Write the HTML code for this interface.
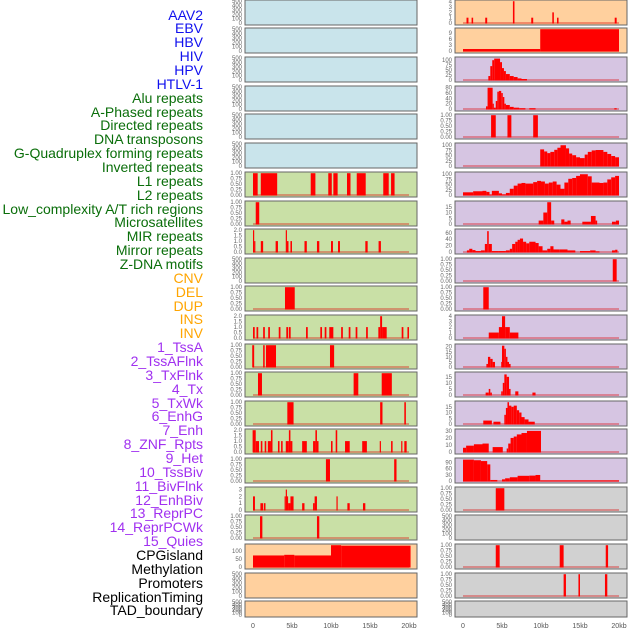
<!DOCTYPE html>
<html><head><meta charset="utf-8">
<style>
html,body{margin:0;padding:0;background:#fff;}
#wrap{position:relative;width:630px;height:630px;overflow:hidden;}
.lab{position:absolute;right:427px;font-family:"Liberation Sans",sans-serif;font-size:14px;line-height:14px;white-space:nowrap;}
svg{position:absolute;left:0;top:0;}
</style></head><body>
<div id="wrap">
<svg id="chart" width="630" height="630"></svg>
</div>
<script>
// ---- category labels ----
const labelNames = ["AAV2","EBV","HBV","HIV","HPV","HTLV-1","Alu repeats","A-Phased repeats","Directed repeats","DNA transposons","G-Quadruplex forming repeats","Inverted repeats","L1 repeats","L2 repeats","Low_complexity A/T rich regions","Microsatellites","MIR repeats","Mirror repeats","Z-DNA motifs","CNV","DEL","DUP","INS","INV","1_TssA","2_TssAFlnk","3_TxFlnk","4_Tx","5_TxWk","6_EnhG","7_Enh","8_ZNF_Rpts","9_Het","10_TssBiv","11_BivFlnk","12_EnhBiv","13_ReprPC","14_ReprPCWk","15_Quies","CPGisland","Methylation","Promoters","ReplicationTiming","TAD_boundary"];
const labelGroups = [6,13,5,15,5];
const groupColors = ["#1010ee","#0a6e0a","#ffa500","#a030f0","#000000"];

// ---- panel data: [startKb, endKb, value] ----
const EMPTY = [];
const R0 = [[0.45,0.7,1],[1.1,1.3,1],[2.85,3.1,1],[6.4,6.6,4.1],[8.75,9,1],[11.45,11.65,2],[12.05,12.25,1],[19.45,19.7,1]];
const R1 = [[0,9.9,1],[9.9,20,11]];
const R2 = [[3.25,3.5,20],[3.5,3.75,70],[3.75,4,100],[4,4.75,108],[4.75,5,90],[5,5.25,60],[5.25,5.5,45],[5.5,6,30],[6,6.5,20],[6.5,7,15],[7,7.5,8],[7.5,8.2,5]];
const R3 = [[2.95,3.15,10],[3.15,3.8,80],[3.8,3.95,20],[3.95,4.2,5],[4.2,4.4,30],[4.4,4.6,65],[4.6,4.9,68],[4.9,5.1,60],[5.1,5.3,45],[5.3,5.5,20],[5.5,6,15],[6,6.5,8],[6.5,7.2,5],[7.2,8,3],[8.5,9.3,3],[19.4,19.7,3]];
const R4 = [[3.6,4.2,1],[5.7,6.2,1],[9,9.6,1]];
const R5 = [[9.9,10.4,80],[10.4,10.8,70],[10.8,11.2,62],[11.2,11.7,68],[11.7,12.1,78],[12.1,12.5,88],[12.5,13.2,100],[13.2,13.6,85],[13.6,14,60],[14,14.5,52],[14.5,15,42],[15,15.6,38],[15.6,16,55],[16,16.5,68],[16.5,17,75],[17,18,77],[18,18.5,68],[18.5,19,58],[19,19.5,48],[19.5,20,42]];
const R6 = [[0,1.3,13],[1.3,2.5,18],[2.5,3,20],[3,3.4,15],[3.4,3.7,2],[3.7,4.6,20],[4.6,5,8],[5,5.5,3],[5.5,6,10],[6,6.5,30],[6.5,7,45],[7,7.5,55],[7.5,8,58],[8,9,55],[9,9.5,62],[9.5,10,68],[10,10.5,65],[10.5,11,55],[11,11.5,60],[11.5,12,65],[12,12.5,50],[12.5,13,30],[13,13.5,60],[13.5,14,78],[14,14.5,82],[14.5,15,92],[15,16,100],[16,16.5,90],[16.5,17.5,60],[17.5,18,58],[18,18.5,60],[18.5,19,75],[19,19.5,85],[19.5,20,92]];
const R7 = [[9.7,10.3,3],[10.3,10.8,10],[10.8,11.3,19],[11.3,11.7,3],[12.6,13,4],[13,13.4,2],[13.4,13.8,3],[15.3,16.4,2],[16.4,17,7],[17,17.2,3],[19.1,19.6,2],[19.6,20,3]];
const R8 = [[0.5,0.8,5],[0.8,1.2,10],[1.2,1.6,6],[1.6,2.3,3],[2.3,2.8,5],[2.8,3.1,25],[3.1,3.3,65],[3.3,3.7,25],[3.7,4.5,3],[4.5,5.5,3],[5.5,6,5],[6,6.3,10],[6.3,6.7,25],[6.7,7,32],[7,7.3,38],[7.3,7.7,42],[7.7,8.1,32],[8.1,8.5,27],[8.5,9.3,32],[9.3,9.7,28],[9.7,10.2,18],[10.2,10.8,5],[10.8,11.2,10],[11.2,11.6,18],[11.6,12.4,8],[12.4,13.4,8],[13.4,14.4,5],[15,16.3,3],[16.3,17,5],[17,17.5,2],[19.1,19.5,5],[19.5,19.8,7]];
const R9 = [[19.2,19.7,1]];
const R10 = [[2.6,3.3,1]];
const R11 = [[3.3,4.6,1],[4.6,5,2],[5,5.4,4],[5.4,6,2],[6,7.1,1]];
const R12 = [[3,3.2,3],[3.2,3.5,10],[3.5,3.8,8],[3.8,4.1,5],[4.9,5,5],[5,5.3,21],[5.3,5.5,18],[5.5,5.7,10],[5.7,5.9,5],[5.9,6.1,3]];
const R13 = [[2.9,3.3,2],[3.3,3.5,5],[3.5,3.7,2],[4.9,5.1,3],[5.1,5.3,10],[5.3,5.6,17],[5.6,5.9,15],[5.9,6.1,5],[6.7,7.1,3],[8.9,9.3,2]];
const R14 = [[2.6,3.7,3],[3.9,4.8,2],[5.3,5.5,8],[5.5,5.7,14],[5.7,5.9,19],[5.9,6.2,16],[6.2,6.5,15],[6.5,6.9,16],[6.9,7.2,12],[7.2,7.5,10],[7.5,7.9,6],[7.9,8.4,4],[8.4,9.2,2]];
const R15 = [[0,0.4,6],[0.4,1.4,9],[1.4,2.5,11],[2.5,3.3,12],[3.8,5.1,7],[5.6,5.8,5],[5.8,6.1,12],[6.1,6.5,20],[6.5,6.9,22],[6.9,7.5,25],[7.5,8.2,27],[8.2,10,30]];
const R16 = [[0,1.4,103],[1.4,2.3,100],[2.3,3.1,96],[3.1,3.5,80],[3.5,4.4,5],[5,5.4,8],[5.4,6,13],[6,7,18],[7,8.5,25],[8.5,9.3,26],[9.3,9.9,29],[9.9,20,3]];
const R17 = [[4.2,5.3,1]];
const R19 = [[4.2,4.7,1],[12.4,12.9,1],[18.3,18.6,1]];
const R20 = [[12.9,13.2,1],[14.8,15,1],[18.2,18.5,1]];

const L6 = [[0,0.6,1],[1,3.1,1],[7.4,8,1],[9.65,10.1,1],[10.3,10.85,1],[12.05,12.5,1],[13.3,14.45,1],[16.7,17.4,1],[17.7,18.15,1]];
const L7 = [[0.35,0.8,1]];
const L8 = [[0,0.15,2],[0.15,0.3,1],[1,1.3,1],[2.9,3.2,1],[4.2,4.35,2],[4.35,4.55,1],[4.8,5,1],[6.6,6.9,1],[8.2,8.5,1],[10,10.25,1],[10.9,11.15,1],[14.4,14.7,1],[16.1,16.4,1]];
const L10 = [[4.1,5.35,1]];
const L11 = [[0,0.22,1],[0.45,0.67,1],[1.3,1.52,1],[1.95,2.17,1],[3.3,3.52,1],[4.27,4.5,1],[4.6,4.83,1],[6.8,7.02,1],[8.63,8.85,1],[9.19,9.41,1],[9.78,10.3,1],[11.3,11.52,1],[12.27,12.49,1],[13.16,13.38,1],[14.5,14.72,1],[16.07,16.3,1],[16.3,16.55,2],[16.55,17.14,1],[19.06,19.28,1],[19.8,20,1]];
const L12 = [[-0.1,0.15,1],[1.3,1.5,1],[1.66,2.95,1],[9.87,10.4,1]];
const L13 = [[0.64,1.15,1],[12.9,13.5,1],[16.5,17.8,1]];
const L14 = [[4.4,5.2,1],[16.3,16.6,1],[19.4,19.6,1]];
const L15 = [[-0.05,0.35,2],[0.35,0.77,1],[1,1.2,1],[1.5,1.7,1],[1.9,2.3,1],[2.3,2.5,2],[3.2,3.4,1],[3.6,3.8,1],[4.2,4.6,1],[4.6,4.8,2],[4.8,5.05,1],[6.3,6.9,1],[7.7,8,1],[8,8.2,2],[8.2,8.4,1],[10,10.2,1],[10.6,10.8,2],[11.8,12.4,1],[14,14.6,1],[16.25,16.4,1],[17.7,17.9,1],[19,19.15,1],[19.4,19.7,1]];
const L16 = [[9.35,9.87,1],[18.1,18.4,1]];
const L17 = [[0,0.25,2],[0.95,1.3,1],[1.4,1.6,1],[4.05,4.2,2],[4.2,4.3,3],[4.3,4.5,2],[4.5,4.8,1],[4.8,5.2,2],[6.3,6.6,1],[7.7,7.9,1],[7.9,8.2,2],[10.7,10.85,2],[12.1,12.4,1],[14.1,14.4,1]];
const L18 = [[0.9,1.2,1],[8.2,8.5,1]];
const L19 = [[0,4,72],[4,5.3,76],[5.3,10,72],[10,11.3,136],[11.3,20.2,133]];

const leftSeries = [EMPTY,EMPTY,EMPTY,EMPTY,EMPTY,EMPTY,L6,L7,L8,EMPTY,L10,L11,L12,L13,L14,L15,L16,L17,L18,L19,EMPTY,EMPTY];
const rightSeries = [R0,R1,R2,R3,R4,R5,R6,R7,R8,R9,R10,R11,R12,R13,R14,R15,R16,R17,EMPTY,R19,R20,EMPTY];

// tick labels per panel
const T500 = ["0","100","200","300","400","500"];
const T1 = ["0.00","0.25","0.50","0.75","1.00"];
const T2 = ["0.0","0.5","1.0","1.5","2.0"];
const leftTicks = [T500,T500,T500,T500,T500,T500,T1,T1,T2,T500,T1,T2,T1,T1,T1,T2,T1,["0","1","2","3"],T1,["0","50","100"],T500,T500];
const leftMax = [500,500,500,500,500,500,1,1,2,500,1,2,1,1,1,2,1,3.2,1,136,500,500];
const rightTicks = [["0","1","2","3","4"],["0","3","6","9"],["0","25","50","75","100"],["0","20","40","60","80"],T1,["0","25","50","75","100"],["0","25","50","75","100"],["0","5","10","15"],["0","20","40","60"],T1,T1,["0","1","2","3","4"],["0","5","10","15","20"],["0","5","10","15"],["0","5","10","15"],["0","10","20","30"],["0","30","60","90"],T1,T500,T1,T1,T500];
const rightMax = [4.1,11,110,82,1,105,105,19,68,1,1,4,21.5,18,19,31,105,1,500,1,1,500];
const xTickLabels = ["0","5kb","10kb","15kb","20kb"];
const xTickValues = [0,5,10,15,20];

const rowTops = [0,28,57,86,114,143,172,201,229,258,286,315,344,372,401,429,458,487,515,544,573,601];
const BG = {blue:"#c9e4eb",green:"#c9e0a6",orange:"#ffd09e",purple:"#d6c5e2",grey:"#d1d1d1"};
function leftBg(i){return i<6?BG.blue:(i<19?BG.green:BG.orange);}
function rightBg(i){return i<2?BG.orange:(i<17?BG.purple:BG.grey);}

const NS="http://www.w3.org/2000/svg";
const svg=document.getElementById('chart');
function mk(tag,attrs,parent){const e=document.createElementNS(NS,tag);for(const k in attrs)e.setAttribute(k,attrs[k]);(parent||svg).appendChild(e);return e;}

// labels
const wrap=document.getElementById('wrap');
let li=0;
labelGroups.forEach((n,g)=>{for(let k=0;k<n;k++){const d=document.createElement('div');d.className='lab';d.style.color=groupColors[g];d.style.top=(15+li*13.86-7.5)+'px';d.textContent=labelNames[li];


wrap.appendChild(d);li++;}});

function xScale(side,kb){const x0=side==='L'?253:463;return x0+kb*7.8;}

function drawPanel(side,i,segs,ticks,dmax,bg){
  const px=side==='L'?245:455, pw=172;
  const top=rowTops[i]; const h=(i===21)?16:25;
  const g=mk('g',{});
  
  
  mk('rect',{x:px,y:top,width:pw,height:h,fill:bg,stroke:"#666","stroke-width":1},g);
  const yb=top+h-2, yt=top+1.2;
  const yS=v=>yb-(v/dmax)*(yb-yt);
  // ticks
  const tmax=parseFloat(ticks[ticks.length-1]);
  ticks.forEach(t=>{const v=parseFloat(t);const y=yS(v*(dmax===500?1:1));
    const tx=mk('text',{x:px-3,y:y+2,"text-anchor":"end","font-size":"6px","font-family":"Liberation Sans, sans-serif",fill:"#666"},g);tx.textContent=t;
    
    
  });
  if(segs.length){
    const bl=mk('line',{x1:xScale(side,0),x2:xScale(side,20),y1:yb,y2:yb,stroke:"rgba(220,0,0,0.45)","stroke-width":1.5},g);
    
    
  }
  segs.forEach(s=>{const x1=xScale(side,s[0]),x2=xScale(side,s[1]);const y=yS(Math.min(s[2],dmax));
    const r=mk('rect',{x:x1,y:y,width:Math.max(x2-x1,1.2),height:yb-y+0.5,fill:"#ff0000"},g);
    
    
  });
}
for(let i=0;i<22;i++){
  drawPanel('L',i,leftSeries[i],leftTicks[i],leftMax[i],leftBg(i));
  drawPanel('R',i,rightSeries[i],rightTicks[i],rightMax[i],rightBg(i));
}
['L','R'].forEach(side=>{xTickValues.forEach((v,k)=>{
  const t=mk('text',{x:xScale(side,v),y:628,"text-anchor":"middle","font-size":"7px","font-family":"Liberation Sans, sans-serif",fill:"#555"});
  t.textContent=xTickLabels[k];
  
  
});});
</script>
</body></html>
